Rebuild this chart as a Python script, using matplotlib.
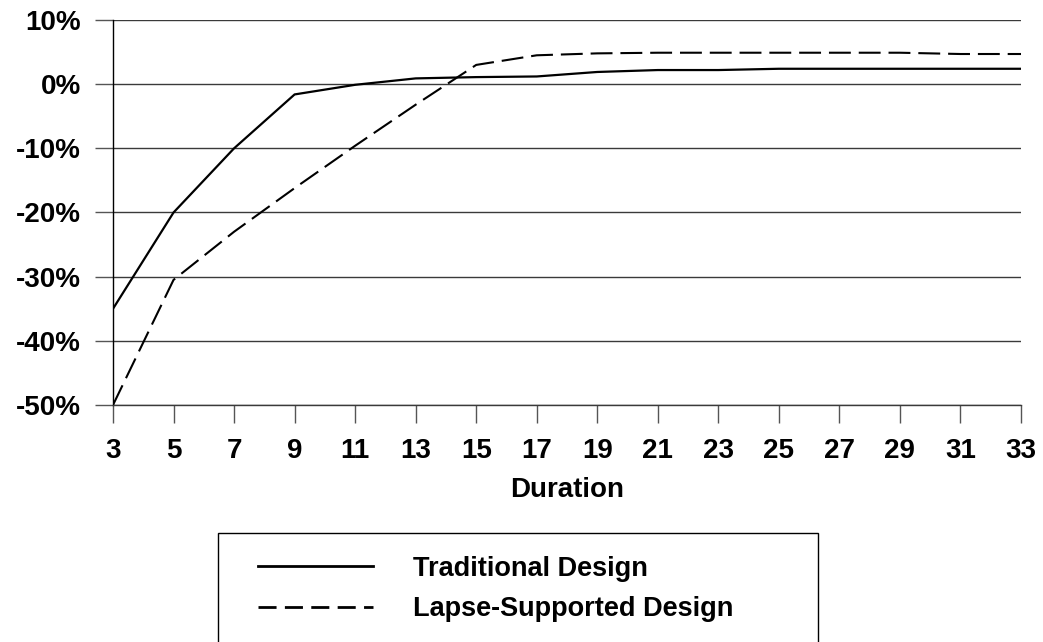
import matplotlib
matplotlib.use("Agg")
import matplotlib.pyplot as plt
from matplotlib.ticker import FuncFormatter
from matplotlib.patches import Rectangle

plt.rcParams['font.family'] = ['Liberation Sans', 'DejaVu Sans']

duration = [3, 5, 7, 9, 11, 13, 15, 17, 19, 21, 23, 25, 27, 29, 31, 33]
traditional = [-35, -20, -10, -1.6, -0.1, 0.9, 1.1, 1.2, 1.9, 2.2, 2.2, 2.4, 2.4, 2.4, 2.4, 2.4]
lapse = [-50, -30.5, -23, -16.2, -9.6, -3.2, 3.0, 4.5, 4.8, 4.9, 4.9, 4.9, 4.9, 4.9, 4.7, 4.7]
yticks = [-50, -40, -30, -20, -10, 0, 10]
labels = ['Traditional Design', 'Lapse-Supported Design']

W, H = 1043, 642
FS = 20
LFS = 19.5
fig = plt.figure(figsize=(W/100, H/100), dpi=100)
ax = fig.add_axes([113/W, 1-405/H, (1021-113)/W, (405-20)/H])

for y in yticks:
    ax.axhline(y, color='#3a3a3a', lw=1.0, zorder=1)

ax.plot(duration, traditional, color='black', lw=1.6, label=labels[0], zorder=3)
ax.plot(duration, lapse, color='black', lw=1.5, linestyle=(0, (10.5, 3.8)), label=labels[1], zorder=3)

ax.set_xlim(3, 33)
ax.set_ylim(-50, 10)
ax.set_xticks(duration)
ax.set_yticks(yticks)
ax.yaxis.set_major_formatter(FuncFormatter(lambda v, p: f"{int(round(v))}%"))
for s in ['top', 'right']:
    ax.spines[s].set_visible(False)
ax.spines['left'].set_color('black')
ax.spines['bottom'].set_color('#3a3a3a')
ax.spines['left'].set_linewidth(1.0)
ax.spines['bottom'].set_linewidth(1.0)
ax.tick_params(axis='x', direction='out', length=13, width=1.0, color='#555555', pad=11,
               labelsize=FS)
ax.tick_params(axis='y', direction='out', length=13, width=1.0, color='#555555', pad=10,
               labelsize=FS)
for t in ax.get_xticklabels() + ax.get_yticklabels():
    t.set_fontweight('bold')
ax.set_xlabel('Duration', fontsize=FS, fontweight='bold', labelpad=9)

leg = fig.legend(loc='center left', bbox_to_anchor=(258/W, 1-589/H), ncol=1,
                 frameon=False, prop={'weight': 'bold', 'size': LFS},
                 handlelength=4.24, handletextpad=1.48, borderpad=0,
                 labelspacing=0.55, borderaxespad=0)
leg_lines = leg.get_lines()
for line in leg_lines:
    line.set_linewidth(2.0)
leg_lines[1].set_linestyle((0, (6.5, 3.0)))

fig.patches.append(Rectangle((218/W, -0.05), (818-218)/W, (1-533/H) + 0.05,
                             transform=fig.transFigure, fill=False,
                             edgecolor='black', lw=1.0, clip_on=False))

fig.savefig('out.png', dpi=100)
